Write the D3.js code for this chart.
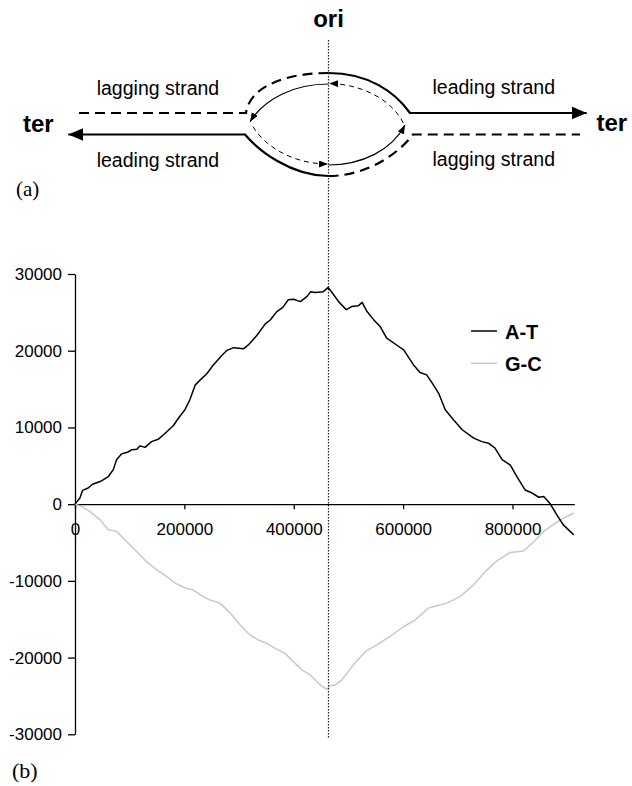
<!DOCTYPE html>
<html>
<head>
<meta charset="utf-8">
<script src="https://cdn.jsdelivr.net/npm/d3@7"></script>
<style>
  body { margin: 0; background: #fff; }
  svg { display: block; }
  text { font-family: "Liberation Sans", Arial, sans-serif; }
</style>
</head>
<body>
<div id="chart"></div>
<script>
// cumulative skew, A-T series (position, value)
const atPos = [0, 9000, 14000, 24000, 32000, 46000, 61000, 70000, 76000, 85000, 97000, 104000, 113000, 119000, 128000,
  140000, 152000, 162000, 180000, 189000, 201000, 210000, 220000, 229000, 241000, 253000, 268000, 278000, 290000,
  308000, 317000, 332000, 348000, 357000, 369000, 380000, 390000, 400000, 412000, 424000, 431000, 439000, 454000,
  463000, 473000, 482000, 496000, 506000, 518000, 525000, 534000, 546000, 558000, 570000, 592000, 601000, 619000,
  631000, 643000, 653000, 665000, 677000, 692000, 708000, 729000, 744000, 756000, 768000, 781000, 796000, 808000,
  823000, 836000, 848000, 857000, 869000, 881000, 893000, 912000];
const atVal = [0, 800, 1800, 2100, 2600, 2950, 3600, 4500, 5800, 6550, 6800, 7100, 7150, 7600, 7400,
  8150, 8450, 9050, 10250, 11200, 12300, 13600, 15550, 16200, 17000, 18150, 19350, 20050, 20400,
  20250, 20750, 21950, 23500, 24000, 25100, 25650, 26650, 26700, 26400, 27050, 27700, 27600, 27700,
  28250, 27300, 26400, 25350, 25750, 25850, 26300, 25100, 24050, 23150, 21650, 20550, 20100, 18150,
  17150, 16850, 15800, 14450, 12300, 11000, 9700, 8600, 8150, 7950, 7300, 5800, 5100, 3600,
  1850, 1450, 900, 1000, 50, -1400, -2700, -4000];

// cumulative skew, G-C series
const gcPos = [0, 12000, 27000, 46000, 61000, 76000, 91000, 113000, 131000, 149000, 168000, 183000, 201000, 216000,
  235000, 247000, 265000, 284000, 302000, 320000, 335000, 351000, 366000, 384000, 396000, 415000, 430000, 445000,
  460000, 466000, 476000, 488000, 509000, 531000, 552000, 576000, 601000, 622000, 646000, 662000, 680000, 704000,
  729000, 750000, 772000, 796000, 820000, 839000, 857000, 878000, 893000, 912000];
const gcVal = [0, -300, -950, -2050, -3350, -3550, -4650, -6200, -7500, -8550, -9450, -10300, -10900, -11200,
  -12050, -12500, -12900, -14200, -15750, -17050, -17700, -18150, -18800, -19450, -20300, -21600, -22250, -23350,
  -24150, -23700, -23550, -22900, -20950, -19200, -18350, -17250, -15950, -15100, -13550, -13250, -12900, -12050,
  -10500, -8800, -7350, -6300, -6100, -4900, -3550, -2500, -1850, -1150];

const seriesNames = ["A-T", "G-C"];
const seriesColors = ["#000000", "#c8c8c8"];
const xTicks = [0, 200000, 400000, 600000, 800000];
const yTicks = [-30000, -20000, -10000, 0, 10000, 20000, 30000];
const oriPos = 463500;
const genomeLen = 913000;

const width = 632, height = 786;

const svg = d3.select("#chart").append("svg")
  .attr("width", width)
  .attr("height", height);

const x = d3.scaleLinear().domain([0, genomeLen]).range([75, 574.3]);
const y = d3.scaleLinear().domain([-30000, 30000]).range([734.3, 274]);

// arrow heads for the diagram
const defs = svg.append("defs");
defs.append("marker").attr("id", "bigArrow")
  .attr("markerUnits", "userSpaceOnUse")
  .attr("markerWidth", 16).attr("markerHeight", 14)
  .attr("refX", 15).attr("refY", 6.5).attr("orient", "auto")
  .append("path").attr("d", "M0,0 L15,6.5 L0,13 Z").attr("fill", "#000");
defs.append("marker").attr("id", "smallArrow")
  .attr("markerUnits", "userSpaceOnUse")
  .attr("markerWidth", 10).attr("markerHeight", 8)
  .attr("refX", 9).attr("refY", 3.5).attr("orient", "auto")
  .append("path").attr("d", "M0,0 L9,3.5 L0,7 Z").attr("fill", "#000");

// (a) replication diagram
const cx = x(oriPos);
const diag = svg.append("g").attr("fill", "none").attr("stroke", "#000");

const strands = [
  // outer thick strands
  { d: `M${cx},73 C${cx - 40},73 250,85 246,113 L77,113`, w: 2.2, dash: "10,6" },
  { d: `M${cx},73 C${cx + 40},73 395,92 410,113 L586.7,113`, w: 2.2, arrow: "bigArrow" },
  { d: `M${cx},176 C${cx - 38},176 258,150 245,134.5 L68.3,134.5`, w: 2.2, arrow: "bigArrow" },
  { d: `M${cx},176 C${cx + 40},176 400,152 413,134.5 L580,134.5`, w: 2.2, dash: "10,6" },
  // inner thin strands
  { d: `M${cx},84 C295,84 265,98 250,121.7`, w: 1.2, arrow: "smallArrow" },
  { d: `M403.3,123 C392,100 362,84 ${cx + 0.7},83.5`, w: 1, dash: "5,4", arrow: "smallArrow" },
  { d: `M253,126.7 C266,148 295,164 ${cx - 0.6},164`, w: 1, dash: "5,4", arrow: "smallArrow" },
  { d: `M${cx},165 C362,165 392,150 405,125`, w: 1.2, arrow: "smallArrow" }
];

diag.selectAll("path").data(strands).join("path")
  .attr("d", d => d.d)
  .attr("stroke-width", d => d.w)
  .attr("stroke-dasharray", d => d.dash || null)
  .attr("marker-end", d => d.arrow ? `url(#${d.arrow})` : null);

const labels = svg.append("g").attr("font-size", 19.5);
labels.append("text").attr("x", 96.7).attr("y", 94.5).text("lagging strand");
labels.append("text").attr("x", 96.7).attr("y", 166.5).text("leading strand");
labels.append("text").attr("x", 432.5).attr("y", 93.5).text("leading strand");
labels.append("text").attr("x", 432.5).attr("y", 165.5).text("lagging strand");

const bold = svg.append("g").attr("font-size", 24).attr("font-weight", "bold");
bold.append("text").attr("x", cx).attr("y", 26.5).attr("text-anchor", "middle").text("ori");
bold.append("text").attr("x", 23).attr("y", 131.5).text("ter");
bold.append("text").attr("x", 596.5).attr("y", 130.5).text("ter");

svg.append("text").attr("x", 16).attr("y", 196)
  .style("font-family", "'Liberation Serif', 'Times New Roman', serif")
  .attr("font-size", 21).text("(a)");
svg.append("text").attr("x", 12).attr("y", 778)
  .style("font-family", "'Liberation Serif', 'Times New Roman', serif")
  .attr("font-size", 22).text("(b)");

// (b) skew chart
svg.append("g")
  .attr("transform", `translate(${x(0)},0)`)
  .call(d3.axisLeft(y).tickValues(yTicks).tickFormat(d => String(d))
    .tickSizeInner(7).tickSizeOuter(0).tickPadding(6))
  .call(g => g.selectAll("text").attr("font-size", 17).attr("fill", "#000")
    .style("font-family", "'Liberation Sans', Arial, sans-serif"))
  .call(g => g.selectAll("path, line").attr("stroke", "#000").attr("stroke-width", 1.3));

svg.append("g")
  .attr("transform", `translate(0,${y(0)})`)
  .call(d3.axisBottom(x).tickValues(xTicks).tickFormat(d => String(d))
    .tickSizeInner(5).tickSizeOuter(0).tickPadding(14))
  .call(g => g.selectAll("text").attr("font-size", 17).attr("fill", "#000")
    .style("font-family", "'Liberation Sans', Arial, sans-serif"))
  .call(g => g.selectAll("path, line").attr("stroke", "#000").attr("stroke-width", 1.3));

const line = d3.line().x(d => x(d[0])).y(d => y(d[1]));
const series = [
  d3.zip(atPos, atVal),
  d3.zip(gcPos, gcVal)
];

// grey first, black on top
svg.append("g").selectAll("path")
  .data([1, 0]).join("path")
  .attr("d", i => line(series[i]))
  .attr("fill", "none")
  .attr("stroke", i => seriesColors[i])
  .attr("stroke-width", 1.5)
  .attr("stroke-linejoin", "round");

// ori dotted line
svg.append("line")
  .attr("x1", cx).attr("x2", cx)
  .attr("y1", 40).attr("y2", 738)
  .attr("stroke", "#222")
  .attr("stroke-width", 1.2)
  .attr("stroke-dasharray", "1.5,1.5");

// legend
const legend = svg.append("g");
seriesNames.forEach((name, i) => {
  const ly = 331 + i * 32.3;
  legend.append("line")
    .attr("x1", 471).attr("x2", 497)
    .attr("y1", ly).attr("y2", ly)
    .attr("stroke", seriesColors[i]).attr("stroke-width", 1.5);
  legend.append("text")
    .attr("x", 505).attr("y", ly + 8)
    .attr("font-size", 20).attr("font-weight", "bold")
    .text(name);
});
</script>
</body>
</html>
